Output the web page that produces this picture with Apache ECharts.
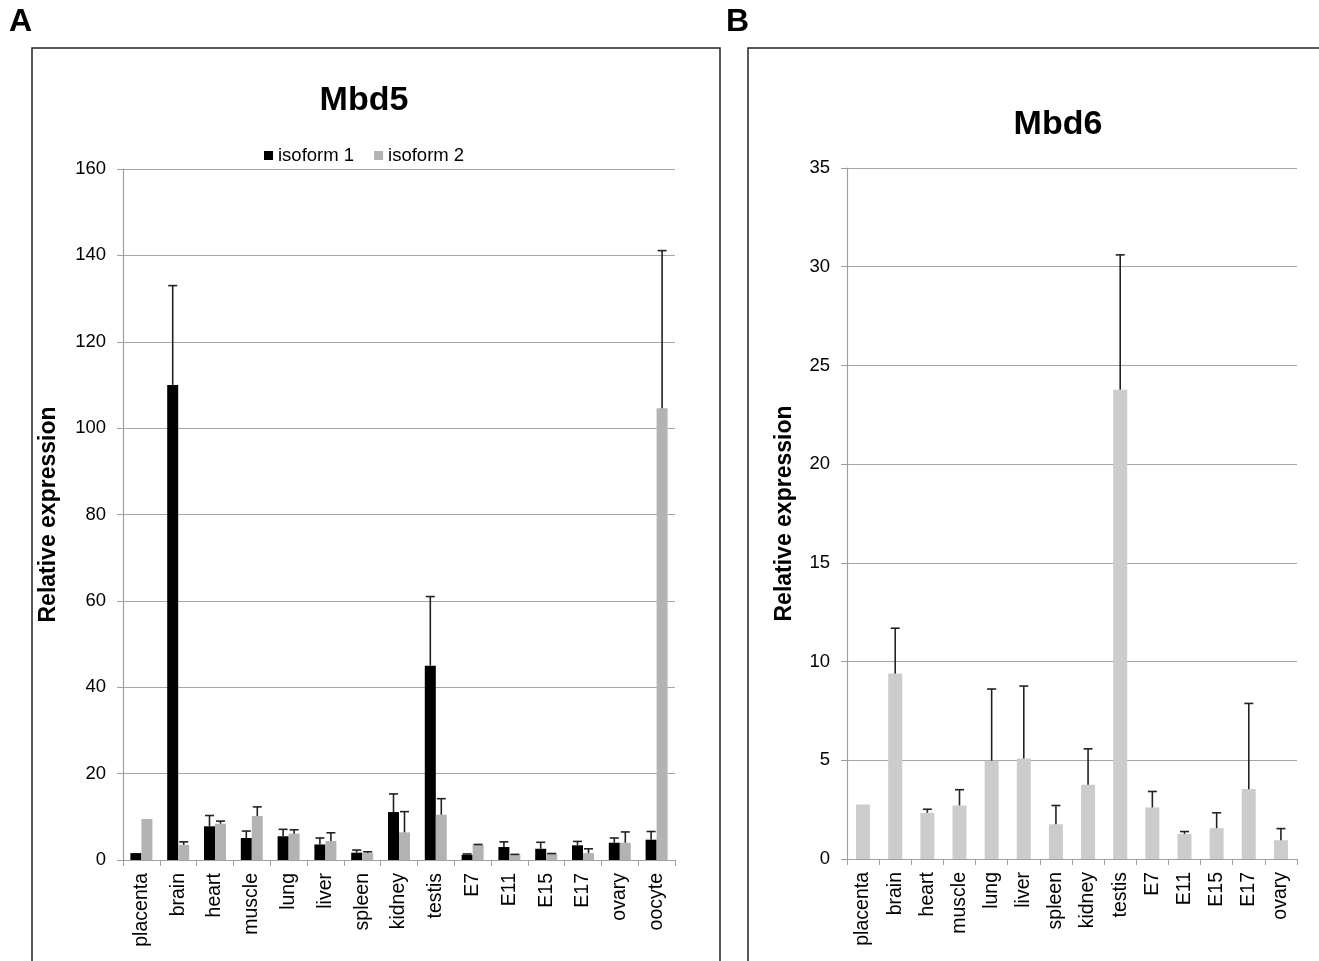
<!DOCTYPE html>
<html>
<head>
<meta charset="utf-8">
<script src="https://cdn.jsdelivr.net/npm/echarts@6/dist/echarts.min.js"></script>
<style>
  html, body { margin: 0; padding: 0; background: #fff; }
  #chart { width: 1319px; height: 961px; }
</style>
</head>
<body>
<div id="chart"></div>
<script>
// Mbd5 (panel A)
const tissuesA = ['placenta', 'brain', 'heart', 'muscle', 'lung', 'liver', 'spleen', 'kidney', 'testis', 'E7', 'E11', 'E15', 'E17', 'ovary', 'oocyte'];
const isoform1 = [1.6, 110, 7.8, 5.1, 5.5, 3.6, 1.7, 11.1, 45, 1.2, 3.0, 2.6, 3.4, 4.0, 4.7];
const isoform1Err = [0, 23, 2.5, 1.6, 1.6, 1.5, 0.6, 4.2, 16, 0.2, 1.2, 1.5, 0.9, 1.1, 1.9];
const isoform2 = [9.5, 3.5, 8.4, 10.2, 6.1, 4.4, 1.6, 6.4, 10.5, 3.5, 1.2, 1.4, 1.6, 4.0, 104.6];
const isoform2Err = [0, 0.7, 0.6, 2.1, 0.9, 1.9, 0.3, 4.8, 3.7, 0.1, 0.1, 0.1, 1.0, 2.5, 36.5];
const ticksA = { min: 0, max: 160, interval: 20 };

// Mbd6 (panel B)
const tissuesB = ['placenta', 'brain', 'heart', 'muscle', 'lung', 'liver', 'spleen', 'kidney', 'testis', 'E7', 'E11', 'E15', 'E17', 'ovary'];
const mbd6 = [2.76, 9.39, 2.34, 2.71, 4.98, 5.09, 1.76, 3.76, 23.77, 2.61, 1.27, 1.56, 3.54, 0.95];
const mbd6Err = [0, 2.3, 0.18, 0.8, 3.63, 3.67, 0.95, 1.82, 6.83, 0.81, 0.12, 0.78, 4.34, 0.59];
const ticksB = { min: 0, max: 35, interval: 5 };

const font = 'Liberation Sans, Arial, sans-serif';

function errData(vals, errs) {
  return vals.map((v, i) => [i, v, errs[i]]);
}

// upper error bar with a cap, drawn through the axis scales
function errRender(offset) {
  return function (params, api) {
    const x = api.value(0), v = api.value(1), e = api.value(2);
    if (!e) return;
    const base = api.coord([x, v]);
    const top = api.coord([x, v + e]);
    const cx = base[0] + offset;
    const st = { stroke: '#222', lineWidth: 1.6 };
    return {
      type: 'group',
      children: [
        { type: 'line', shape: { x1: cx, y1: base[1], x2: cx, y2: top[1] }, style: st },
        { type: 'line', shape: { x1: cx - 4.5, y1: top[1], x2: cx + 4.5, y2: top[1] }, style: st }
      ]
    };
  };
}

function xAxisFor(cats, idx) {
  return {
    type: 'category', gridIndex: idx, data: cats,
    axisLine: { lineStyle: { color: '#a0a0a0', width: 1.2 } },
    axisTick: { show: true, length: 6, lineStyle: { color: '#a0a0a0' } },
    axisLabel: { rotate: 90, margin: 13, color: '#000', fontSize: 19.5, fontFamily: font }
  };
}

function yAxisFor(t, idx, gap) {
  return {
    type: 'value', gridIndex: idx, min: t.min, max: t.max, interval: t.interval,
    name: 'Relative expression', nameLocation: 'middle', nameGap: gap,
    nameTextStyle: { color: '#000', fontSize: 23, fontWeight: 'bold', fontFamily: font },
    axisLine: { show: true, lineStyle: { color: '#a0a0a0', width: 1.2 } },
    axisTick: { show: true, length: 6, lineStyle: { color: '#a0a0a0' } },
    axisLabel: { margin: 17, color: '#000', fontSize: 18.5, fontFamily: font },
    splitLine: { lineStyle: { color: '#a6a6a6', width: 1.2 } }
  };
}

const chart = echarts.init(document.getElementById('chart'));
chart.setOption({
  animation: false,
  backgroundColor: '#fff',
  title: [
    { text: 'Mbd5', left: 359, top: 79, textAlign: 'center',
      textStyle: { fontSize: 34, fontWeight: 'bold', color: '#000', fontFamily: font } },
    { text: 'Mbd6', left: 1053, top: 103, textAlign: 'center',
      textStyle: { fontSize: 34, fontWeight: 'bold', color: '#000', fontFamily: font } }
  ],
  legend: {
    data: ['isoform 1', 'isoform 2'],
    left: 259, top: 141, icon: 'rect', itemWidth: 9, itemHeight: 9, itemGap: 20,
    textStyle: { fontSize: 18.5, color: '#000', fontFamily: font }
  },
  grid: [
    { left: 123, right: 644, top: 169, bottom: 101 },
    { left: 847, right: 22, top: 168, bottom: 102 }
  ],
  xAxis: [xAxisFor(tissuesA, 0), xAxisFor(tissuesB, 1)],
  yAxis: [yAxisFor(ticksA, 0, 63), yAxisFor(ticksB, 1, 51)],
  graphic: [
    { type: 'rect', shape: { x: 32, y: 48, width: 688, height: 960 },
      style: { fill: 'none', stroke: '#222', lineWidth: 1.5 } },
    { type: 'rect', shape: { x: 748, y: 48, width: 620, height: 960 },
      style: { fill: 'none', stroke: '#222', lineWidth: 1.5 } },
    { type: 'text', left: 9, top: 6,
      style: { text: 'A', fontSize: 32, fontWeight: 'bold', fill: '#000', fontFamily: font } },
    { type: 'text', left: 726, top: 6,
      style: { text: 'B', fontSize: 32, fontWeight: 'bold', fill: '#000', fontFamily: font } }
  ],
  series: [
    { name: 'isoform 1', type: 'bar', xAxisIndex: 0, yAxisIndex: 0, data: isoform1,
      barWidth: 11, barGap: '0%', itemStyle: { color: '#000' } },
    { name: 'isoform 2', type: 'bar', xAxisIndex: 0, yAxisIndex: 0, data: isoform2,
      barWidth: 11, barGap: '0%', itemStyle: { color: '#b3b3b3' } },
    { type: 'custom', xAxisIndex: 0, yAxisIndex: 0, renderItem: errRender(-5.5),
      data: errData(isoform1, isoform1Err), z: 5 },
    { type: 'custom', xAxisIndex: 0, yAxisIndex: 0, renderItem: errRender(5.5),
      data: errData(isoform2, isoform2Err), z: 5 },
    { name: 'Mbd6', type: 'bar', xAxisIndex: 1, yAxisIndex: 1, data: mbd6,
      barWidth: 14, itemStyle: { color: '#cccccc' } },
    { type: 'custom', xAxisIndex: 1, yAxisIndex: 1, renderItem: errRender(0),
      data: errData(mbd6, mbd6Err), z: 5 }
  ]
});
</script>
</body>
</html>
